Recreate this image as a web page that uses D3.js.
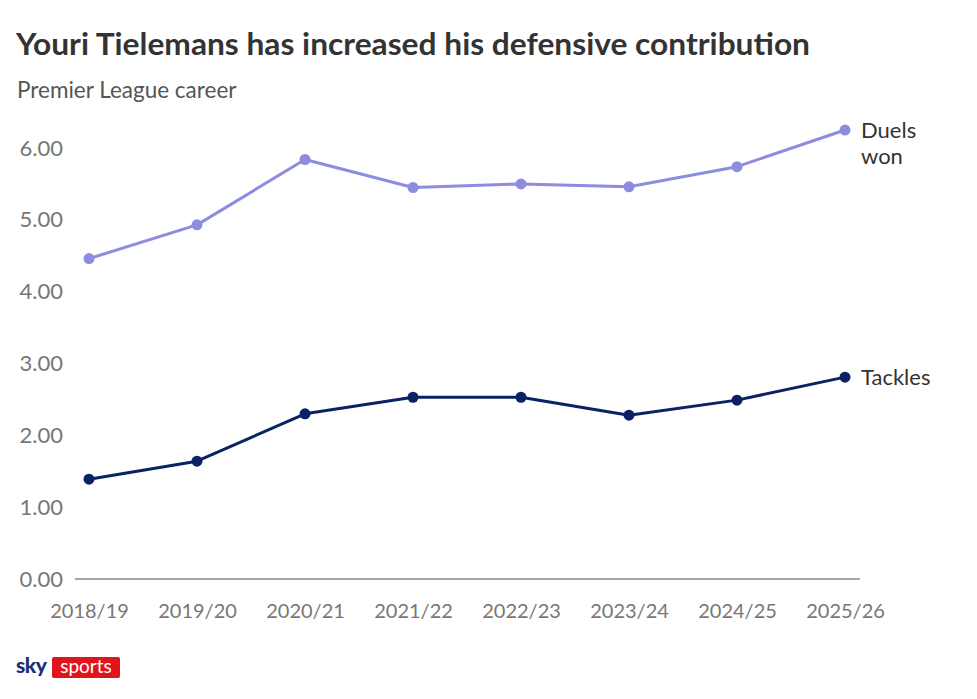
<!DOCTYPE html>
<html>
<head>
<meta charset="utf-8">
<script src="https://cdn.jsdelivr.net/npm/d3@7"></script>
<style>
  body { margin: 0; background: #fff; }
  text { font-family: Lato, "Open Sans", sans-serif; }
</style>
</head>
<body>
<div id="chart"></div>
<script>
var seasons = ["2018/19", "2019/20", "2020/21", "2021/22", "2022/23", "2023/24", "2024/25", "2025/26"];
var duelsWon = [4.46, 4.93, 5.84, 5.45, 5.50, 5.46, 5.74, 6.25];
var tackles = [1.39, 1.64, 2.30, 2.53, 2.53, 2.28, 2.49, 2.81];
var yTicks = [0, 1, 2, 3, 4, 5, 6];

var series = [
  { name: ["Duels", "won"], values: duelsWon, color: "#8c8ce0" },
  { name: ["Tackles"], values: tackles, color: "#0a2265" }
];

var svg = d3.select("#chart").append("svg")
  .attr("width", 977)
  .attr("height", 699);

var x = d3.scalePoint().domain(seasons).range([89, 845]);
var y = d3.scaleLinear().domain([0, 6]).range([579, 148]);

svg.append("text")
  .attr("x", 16).attr("y", 55)
  .attr("font-size", 31).attr("font-weight", 700)
  .attr("fill", "#333")
  .attr("textLength", 794)
  .attr("lengthAdjust", "spacingAndGlyphs")
  .text("Youri Tielemans has increased his defensive contribution");

svg.append("text")
  .attr("x", 17).attr("y", 98)
  .attr("font-size", 22.5)
  .attr("fill", "#555")
  .text("Premier League career");

// y axis labels
var yAxis = svg.append("g")
  .attr("transform", "translate(63,0)")
  .call(d3.axisLeft(y).tickValues(yTicks).tickFormat(d3.format(".2f")).tickSize(0).tickPadding(0));
yAxis.select(".domain").remove();
yAxis.selectAll("text")
  .attr("font-family", "Lato, sans-serif")
  .attr("font-size", 22)
  .attr("fill", "#777");

// baseline
svg.append("line")
  .attr("x1", 75).attr("x2", 860)
  .attr("y1", y(0)).attr("y2", y(0))
  .attr("stroke", "#888").attr("stroke-width", 1.5);

// x axis labels
var xAxis = svg.append("g")
  .attr("transform", "translate(0,604)")
  .call(d3.axisBottom(x).tickSize(0).tickPadding(0));
xAxis.select(".domain").remove();
xAxis.selectAll("text")
  .attr("font-family", "Lato, sans-serif")
  .attr("font-size", 20)
  .attr("fill", "#777");

var line = d3.line()
  .x(function(d, i) { return x(seasons[i]); })
  .y(function(d) { return y(d); });

series.forEach(function(s) {
  svg.append("path")
    .datum(s.values)
    .attr("fill", "none")
    .attr("stroke", s.color)
    .attr("stroke-width", 3)
    .attr("stroke-linejoin", "round")
    .attr("d", line);

  svg.selectAll(null)
    .data(s.values)
    .enter().append("circle")
    .attr("cx", function(d, i) { return x(seasons[i]); })
    .attr("cy", function(d) { return y(d); })
    .attr("r", 5.5)
    .attr("fill", s.color);

  var last = s.values[s.values.length - 1];
  var lbl = svg.append("text")
    .attr("x", x(seasons[seasons.length - 1]) + 16)
    .attr("y", y(last) + 8)
    .attr("font-size", 22)
    .attr("fill", "#333");
  s.name.forEach(function(t, i) {
    lbl.append("tspan")
      .attr("x", x(seasons[seasons.length - 1]) + 16)
      .attr("dy", i === 0 ? 0 : 26)
      .text(t);
  });
});

// sky sports logo
var logo = svg.append("g").attr("transform", "translate(16,657)");
logo.append("text")
  .attr("x", 0).attr("y", 16)
  .attr("font-size", 21).attr("font-weight", 900)
  .attr("fill", "#1b2f73")
  .attr("letter-spacing", -0.5)
  .text("sky");
logo.append("rect")
  .attr("x", 36).attr("y", 0)
  .attr("width", 68).attr("height", 21)
  .attr("rx", 2)
  .attr("fill", "#e1141b");
logo.append("text")
  .attr("x", 70).attr("y", 16)
  .attr("text-anchor", "middle")
  .attr("font-size", 19)
  .attr("fill", "#fff")
  .text("sports");
</script>
</body>
</html>
